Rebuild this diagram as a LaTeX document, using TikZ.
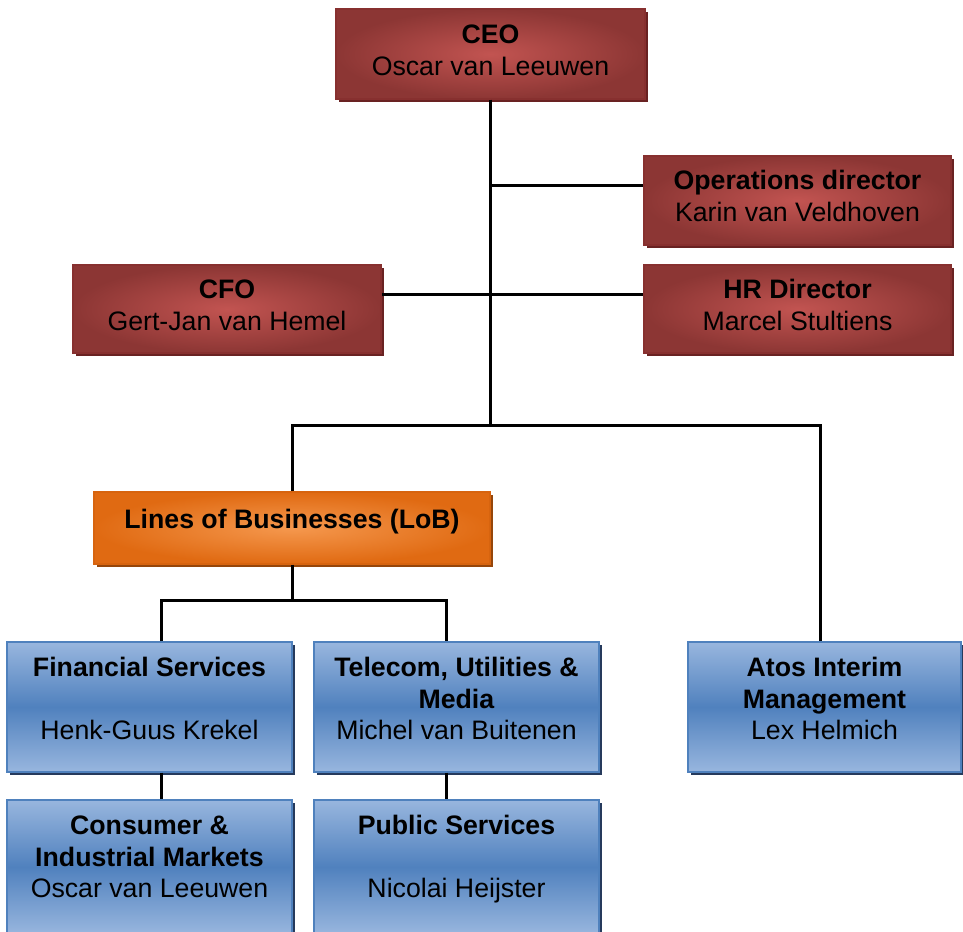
\documentclass[tikz,border=0pt]{standalone}
\usepackage{fontspec}
\setmainfont{Liberation Sans}
\usetikzlibrary{shadows}

\definecolor{redin}{RGB}{194,84,81}
\definecolor{redout}{RGB}{140,54,52}
\definecolor{redline}{RGB}{135,48,47}
\definecolor{redshade}{RGB}{105,34,34}
\definecolor{orin}{RGB}{245,152,78}
\definecolor{orout}{RGB}{224,106,18}
\definecolor{orline}{RGB}{215,100,15}
\definecolor{orshade}{RGB}{150,70,10}
\definecolor{blueedge}{RGB}{152,182,222}
\definecolor{bluemid}{RGB}{80,129,190}
\definecolor{blueline}{RGB}{79,129,189}
\definecolor{blueshade}{RGB}{38,58,92}

\tikzset{
  box/.style={rectangle, inner sep=0pt, line width=1.2pt},
  redbox/.style={box, draw=redline, inner color=redin, outer color=redout,
    drop shadow={shadow xshift=3pt, shadow yshift=-3pt, opacity=1, fill=redshade}},
  orbox/.style={box, draw=orline, inner color=orin, outer color=orout,
    drop shadow={shadow xshift=3pt, shadow yshift=-3pt, opacity=1, fill=orshade}},
  bluebox/.style={box, draw=blueline, top color=blueedge, bottom color=blueedge, middle color=bluemid,
    drop shadow={shadow xshift=3pt, shadow yshift=-3pt, opacity=1, fill=blueshade}},
  txt/.style={anchor=north, inner sep=0pt, align=center,
    font=\fontsize{26.7pt}{31.5pt}\selectfont},
  conn/.style={line width=3pt, black},
}

\begin{document}
\begin{tikzpicture}[x=1pt, y=-1pt]
\useasboundingbox (0,0) rectangle (963,931);

% boxes (placed first so the connectors can refer to them)
\node[redbox, minimum width=309pt, minimum height=90pt] (ceo) at (490.5,54) {};
\node[redbox, minimum width=307pt, minimum height=89pt] (ops) at (797.5,200.5) {};
\node[redbox, minimum width=307pt, minimum height=88pt] (hr)  at (797.5,309) {};
\node[redbox, minimum width=308pt, minimum height=88pt] (cfo) at (227,309) {};
\node[orbox,  minimum width=396pt, minimum height=72pt] (lob) at (292,528) {};
\node[bluebox, minimum width=285pt, minimum height=130pt] (fin)  at (149.5,707) {};
\node[bluebox, minimum width=285pt, minimum height=130pt] (tel)  at (456.5,707) {};
\node[bluebox, minimum width=273pt, minimum height=130pt] (atos) at (824.5,707) {};
\node[bluebox, minimum width=285pt, minimum height=134pt] (cons) at (149.5,867) {};
\node[bluebox, minimum width=285pt, minimum height=134pt] (pub)  at (456.5,867) {};

% connector junction points
\coordinate (opsjoin) at (ceo.south |- 0,185);
\coordinate (staff)   at (ceo.south |- 0,294);
\coordinate (bus)     at (ceo.south |- 0,425);
\coordinate (busR)    at (820,425);
\coordinate (sub)     at (lob.south |- 0,600);
\coordinate (subL)    at (161,600);
\coordinate (subR)    at (446,600);

% connectors
\draw[conn] (ceo.south) -- (bus);
\draw[conn] (opsjoin) -- (opsjoin -| ops.west);
\draw[conn] (cfo.east |- staff) -- (hr.west |- staff);
\draw[conn] (lob.north) -- (lob.north |- bus) -- (busR) -- (busR |- atos.north);
\draw[conn] (lob.south) -- (sub);
\draw[conn] (subL |- fin.north) -- (subL) -- (subR) -- (subR |- tel.north);
\draw[conn] (subL |- fin.south) -- (subL |- cons.north);
\draw[conn] (subR |- tel.south) -- (subR |- pub.north);

% texts
\node[txt] (ceoT) at ([yshift=-13pt]ceo.north) {\strut\textbf{CEO}\\\strut Oscar van Leeuwen};
\node[txt] (opsT) at ([yshift=-12pt]ops.north) {\strut\textbf{Operations director}\\\strut Karin van Veldhoven};
\node[txt] (hrT)  at ([yshift=-12pt]hr.north)  {\strut\textbf{HR Director}\\\strut Marcel Stultiens};
\node[txt] (cfoT) at ([yshift=-12pt]cfo.north) {\strut\textbf{CFO}\\\strut Gert-Jan van Hemel};
\node[txt] (lobT) at ([yshift=-15pt]lob.north) {\strut\textbf{Lines of Businesses (LoB)}};
\node[txt] (finT) at ([yshift=-13pt]fin.north) {\strut\textbf{Financial Services}\\\strut\\\strut Henk-Guus Krekel};
\node[txt] (telT) at ([yshift=-13pt]tel.north) {\strut\textbf{Telecom, Utilities \&}\\\strut\textbf{Media}\\\strut Michel van Buitenen};
\node[txt] (atosT) at ([yshift=-13pt]atos.north) {\strut\textbf{Atos Interim}\\\strut\textbf{Management}\\\strut Lex Helmich};
\node[txt] (consT) at ([yshift=-13pt]cons.north) {\strut\textbf{Consumer \&}\\\strut\textbf{Industrial Markets}\\\strut Oscar van Leeuwen};
\node[txt] (pubT) at ([yshift=-13pt]pub.north) {\strut\textbf{Public Services}\\\strut\\\strut Nicolai Heijster};
\end{tikzpicture}
\end{document}
